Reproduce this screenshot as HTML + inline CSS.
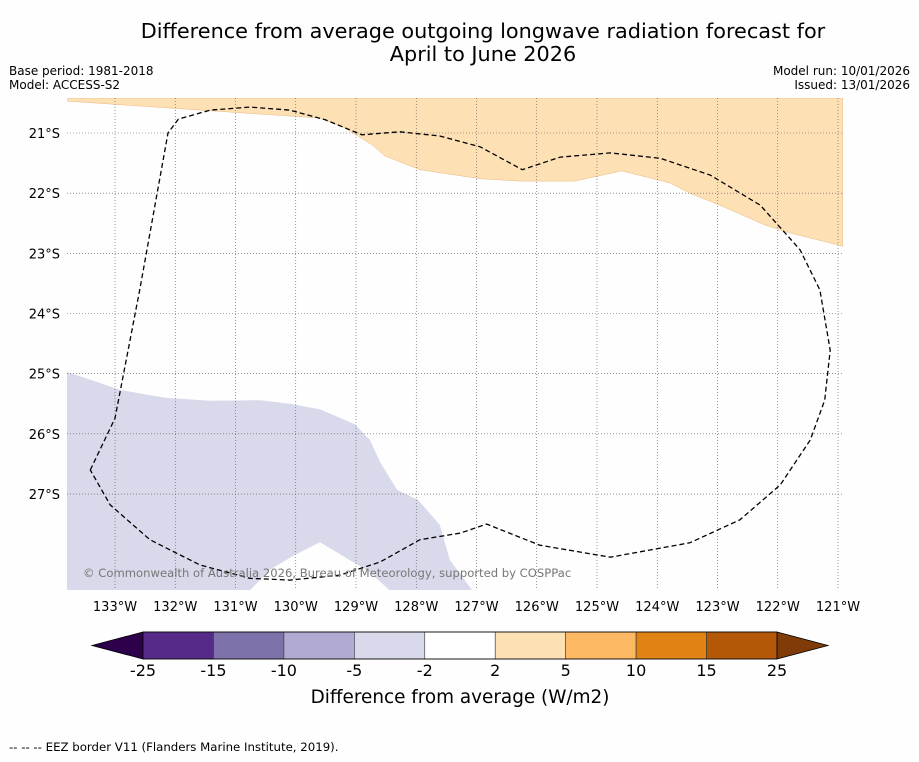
<!DOCTYPE html>
<html><head><meta charset="utf-8"><style>
body{margin:0;background:#fff;width:919px;height:758px;overflow:hidden;font-family:"DejaVu Sans","Liberation Sans",sans-serif}
</style></head><body>
<svg id="s" width="919" height="758" xmlns="http://www.w3.org/2000/svg" font-family="DejaVu Sans, Liberation Sans, sans-serif">
<rect width="919" height="758" fill="#fefefe"/>
<text x="483" y="38" font-size="20.8" text-anchor="middle">Difference from average outgoing longwave radiation forecast for</text>
<text x="483" y="61" font-size="20.8" text-anchor="middle">April to June 2026</text>
<text x="9" y="75" font-size="12">Base period: 1981-2018</text>
<text x="9" y="89" font-size="12">Model: ACCESS-S2</text>
<text x="910" y="75" font-size="12" text-anchor="end">Model run: 10/01/2026</text>
<text x="910" y="89" font-size="12" text-anchor="end">Issued: 13/01/2026</text>
<g id="map"></g>
<g id="cb"></g>
<text x="460" y="703" font-size="18.4" text-anchor="middle">Difference from average (W/m2)</text>
<text x="9" y="751" font-size="11.75">--  --  -- EEZ border V11 (Flanders Marine Institute, 2019).</text>
</svg>
<script>
const lonTicks=[133,132,131,130,129,128,127,126,125,124,123,122,121];
const latTicks=[21,22,23,24,25,26,27];
const levels=[-25,-15,-10,-5,-2,2,5,10,15,25];
const levelColors=["#552a88","#7f72ab","#b1aad2","#d8d9ea","#ffffff","#fee0b5","#fdb863","#e08214","#b35806"];
const lowColor="#2d004b", highColor="#7f3b08";
const orangeLon=[133.8,131.59,129.6,129.18,128.73,128.52,127.94,126.94,126.28,125.37,124.59,123.79,123.46,122.96,122.21,121.8,120.92,120.92,133.8];
const orangeLat=[20.47,20.62,20.75,20.92,21.2,21.38,21.61,21.76,21.8,21.8,21.63,21.83,22.0,22.2,22.53,22.66,22.88,20.42,20.42];
const purpleLon=[133.8,133.41,132.92,132.17,131.42,130.59,130.1,129.6,129.02,128.77,128.6,128.32,127.97,127.61,127.44,127.07,128.44,128.77,129.1,129.6,130.01,130.43,130.76,133.8];
const purpleLat=[24.97,25.1,25.27,25.4,25.45,25.44,25.5,25.59,25.84,26.1,26.47,26.93,27.1,27.51,28.1,28.6,28.6,28.3,28.1,27.8,28.01,28.26,28.6,28.6];
const eezLon=[133.41,133.0,132.59,132.12,131.95,131.42,130.76,130.1,129.51,128.9,128.27,127.61,126.94,126.24,125.61,124.78,123.95,123.12,122.29,121.63,121.3,121.13,121.22,121.46,121.96,122.63,123.46,124.78,125.95,126.83,127.27,127.94,128.6,129.27,130.1,130.76,131.59,132.42,133.08];
const eezLat=[26.6,25.74,23.61,21.0,20.77,20.62,20.57,20.62,20.78,21.03,20.98,21.05,21.23,21.61,21.4,21.33,21.42,21.7,22.2,22.94,23.61,24.61,25.44,26.1,26.85,27.43,27.81,28.05,27.85,27.5,27.65,27.76,28.13,28.35,28.43,28.4,28.18,27.76,27.18];
const NS="http://www.w3.org/2000/svg";
const X0=67,X1=843,Y0=98,Y1=590;
const xs=lon=>115+(133-lon)*60.25;
const ys=lat=>133+(lat-21)*60.17;
function mk(t,p,a){const e=document.createElementNS(NS,t);for(const k in a)e.setAttribute(k,a[k]);p.appendChild(e);return e;}
const map=document.getElementById('map');
const cp=mk('clipPath',map,{id:'clip'});mk('rect',cp,{x:X0,y:Y0,width:X1-X0,height:Y1-Y0});
const g=mk('g',map,{'clip-path':'url(#clip)'});
const pts=(lo,la)=>lo.map((v,i)=>xs(v).toFixed(1)+','+ys(la[i]).toFixed(1)).join(' ');
let p=mk('polygon',g,{points:pts(orangeLon,orangeLat),fill:"#fee0b5",stroke:"#e8b880","stroke-width":0.5});

p=mk('polygon',g,{points:pts(purpleLon,purpleLat),fill:"#d8d9ea"});

lonTicks.forEach(l=>{const x=xs(l);
 let e=mk('line',g,{x1:x,x2:x,y1:Y0,y2:Y1,stroke:"#555","stroke-width":0.6,"stroke-dasharray":"1,2"});
 
 let t=mk('text',map,{x:x,y:Y1+21,"font-size":13,"text-anchor":"middle"});t.textContent=l+'°W';
 });
latTicks.forEach(l=>{const y=ys(l);
 let e=mk('line',g,{x1:X0,x2:X1,y1:y,y2:y,stroke:"#555","stroke-width":0.6,"stroke-dasharray":"1,2"});
 
 let t=mk('text',map,{x:60,y:y+5,"font-size":13,"text-anchor":"end"});t.textContent=l+'°S';
 });
p=mk('polygon',g,{points:pts(eezLon,eezLat),fill:"none",stroke:"#000","stroke-width":1.3,"stroke-dasharray":"5,3"});

let c=mk('text',map,{x:83,y:577,"font-size":11.6,fill:"#777"});c.textContent='© Commonwealth of Australia 2026, Bureau of Meteorology, supported by COSPPac';

const cb=document.getElementById('cb');
const cx0=143,cx1=777,cy=632,ch=27,bw=(cx1-cx0)/levelColors.length;
let a=mk('polygon',cb,{points:`${cx0},${cy} ${92},${cy+ch/2} ${cx0},${cy+ch}`,fill:lowColor,stroke:"#000","stroke-width":0.8});

a=mk('polygon',cb,{points:`${cx1},${cy} ${828},${cy+ch/2} ${cx1},${cy+ch}`,fill:highColor,stroke:"#000","stroke-width":0.8});

levelColors.forEach((col,i)=>{let r=mk('rect',cb,{x:cx0+i*bw,y:cy,width:bw,height:ch,fill:col,stroke:"#333","stroke-width":0.6});
 });
mk('rect',cb,{x:cx0,y:cy,width:cx1-cx0,height:ch,fill:"none",stroke:"#000","stroke-width":0.8});
levels.forEach((v,i)=>{let t=mk('text',cb,{x:cx0+i*bw,y:676,"font-size":16,"text-anchor":"middle"});t.textContent=v;
 });
</script>
</body></html>
